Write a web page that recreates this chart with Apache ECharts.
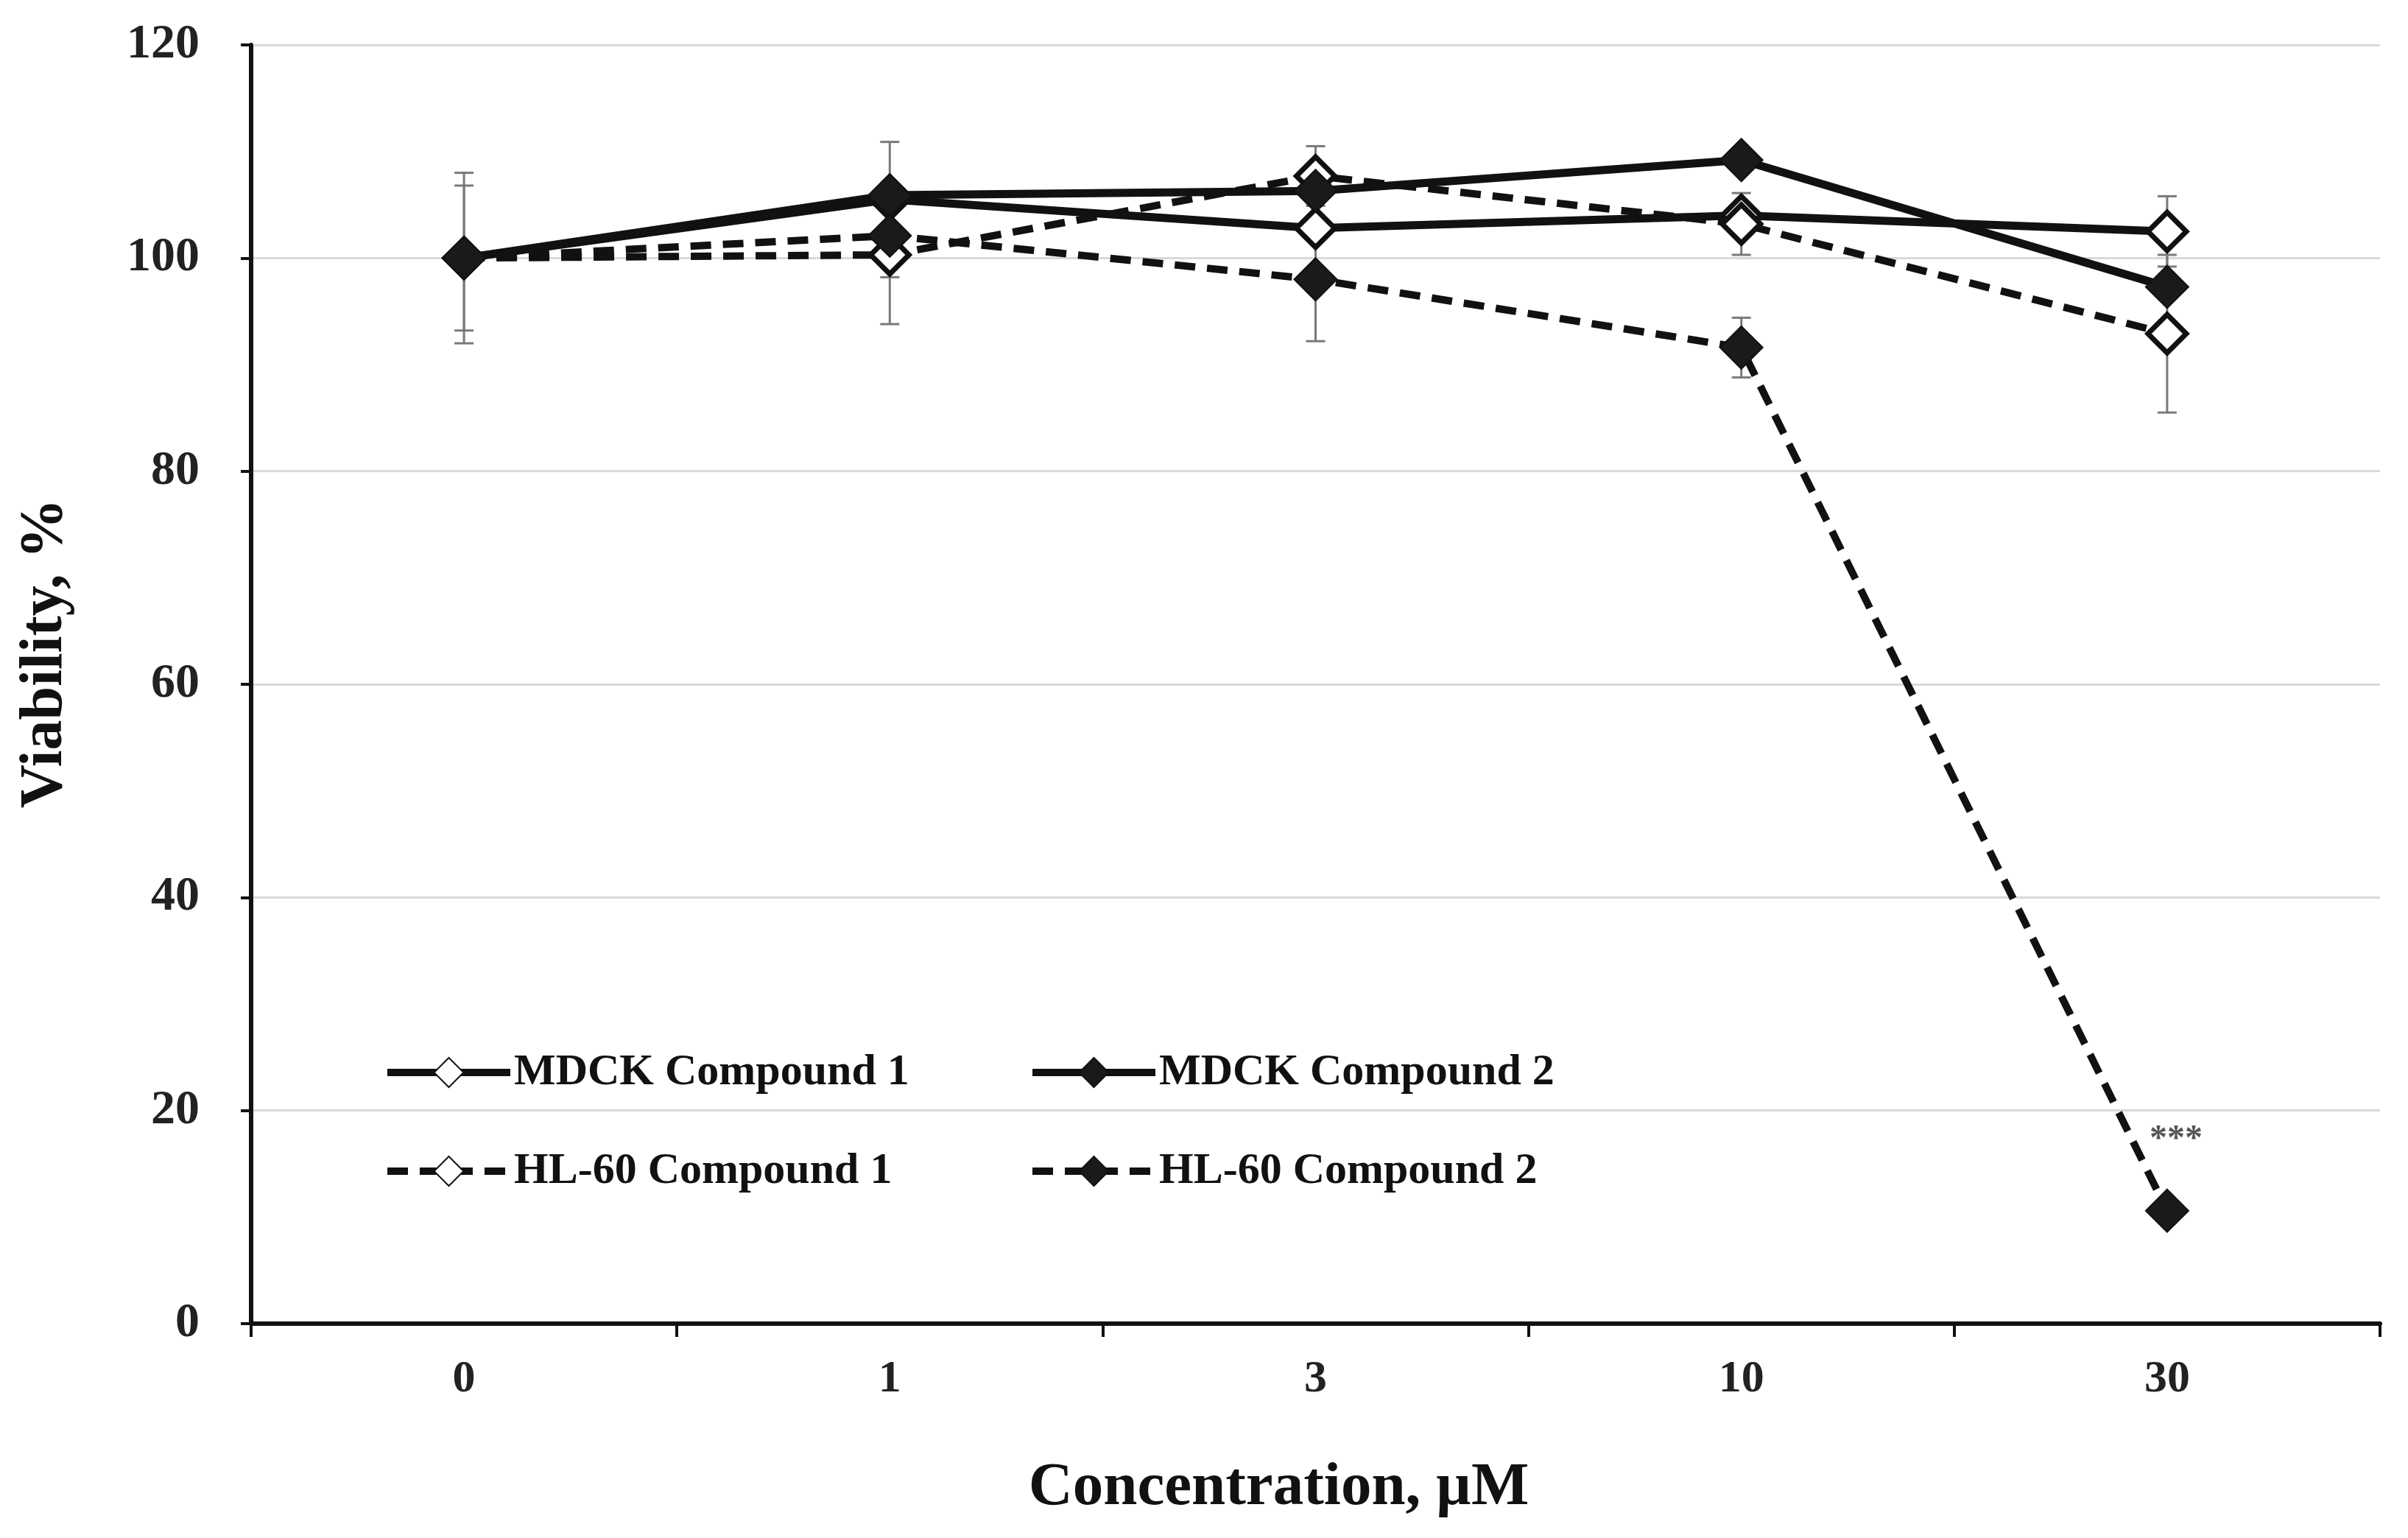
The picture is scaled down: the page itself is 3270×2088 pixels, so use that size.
<!DOCTYPE html>
<html><head><meta charset="utf-8">
<script src="https://cdn.jsdelivr.net/npm/echarts@6/dist/echarts.min.js"></script>
<style>html,body{margin:0;padding:0;background:#fff}#c{width:3270px;height:2088px}</style>
</head><body><div id="c"></div>
<script>
// ---- data ----
const categories = ['0', '1', '3', '10', '30'];
const seriesNames = ['MDCK Compound 1', 'MDCK Compound 2', 'HL-60 Compound 1', 'HL-60 Compound 2'];
const mdck1 = [100, 105.5, 102.8, 104.0, 102.5];
const mdck2 = [100, 105.9, 106.3, 109.2, 97.3];
const hl601 = [100, 100.3, 107.7, 103.2, 92.9];
const hl602 = [100, 102.1, 98.0, 91.6, 10.6];
const mdck1Err = [0, 0, 0, 0, 3.3];
const mdck2Err = [0, 5.0, 0, 0, 0];
const hl601Err = [8.0, 6.5, 2.8, 2.9, 7.4];
const hl602Err = [6.8, 3.9, 5.8, 2.8, 0];
const hl602Marks = ['', '', '', '', '***'];
const yTicks = { min: 0, max: 120, interval: 20 };

const FONT = 'Liberation Serif';
const INK = '#111';

function errSeries(vals, errs) {
  return {
    type: 'custom', silent: true, z: 1,
    data: vals.map((v, i) => [i, v, errs[i]]),
    encode: { x: 0, y: 1 },
    renderItem: function (params, api) {
      const e = api.value(2);
      if (!e) return null;
      const x = api.value(0), v = api.value(1);
      const t = api.coord([x, v + e]);
      const b = api.coord([x, v - e]);
      const hw = 13;
      const st = { stroke: '#7a7a7a', lineWidth: 3 };
      return {
        type: 'group', children: [
          { type: 'line', shape: { x1: t[0], y1: t[1], x2: b[0], y2: b[1] }, style: st },
          { type: 'line', shape: { x1: t[0] - hw, y1: t[1], x2: t[0] + hw, y2: t[1] }, style: st },
          { type: 'line', shape: { x1: b[0] - hw, y1: b[1], x2: b[0] + hw, y2: b[1] }, style: st }
        ]
      };
    }
  };
}

function lineSeries(name, vals, dashed, filled, marks) {
  const data = vals.map((v, i) => (marks && marks[i]) ? {
    value: v,
    label: {
      show: true, formatter: marks[i], position: 'top', distance: 42, offset: [12, 0],
      fontSize: 48, color: '#555', fontFamily: FONT, fontWeight: 'bold'
    }
  } : v);
  return {
    name: name, type: 'line', data: data, z: 3,
    symbol: 'diamond', symbolSize: filled ? 58 : 52,
    lineStyle: { color: INK, width: dashed ? 10 : 11, type: dashed ? [28, 16] : 'solid' },
    itemStyle: { color: filled ? '#1a1a1a' : '#fff', borderColor: '#111', borderWidth: filled ? 2 : 7 },
    emphasis: { disabled: true }
  };
}

const legendText = { fontFamily: FONT, fontWeight: 'bold', fontSize: 60, color: INK };
const legendBase = {
  top: 1426, orient: 'vertical', itemWidth: 167, itemHeight: 50, itemGap: 74, padding: 0,
  textStyle: legendText, selectedMode: false,
  lineStyle: { width: 10 }
};

const option = {
  backgroundColor: '#fff',
  animation: false,
  grid: { left: 341, right: 38, top: 61, bottom: 291, containLabel: false },
  legend: [
    Object.assign({}, legendBase, { left: 521, data: [seriesNames[0], seriesNames[2]] }),
    Object.assign({}, legendBase, { left: 1397, data: [seriesNames[1], seriesNames[3]] })
  ],
  xAxis: {
    type: 'category', data: categories, boundaryGap: true,
    name: 'Concentration, µM', nameLocation: 'middle', nameGap: 182,
    nameTextStyle: { fontFamily: FONT, fontWeight: 'bold', fontSize: 83, color: INK, padding: [0, 100, 0, 0] },
    axisLine: { lineStyle: { color: INK, width: 6 } },
    axisTick: { show: true, inside: false, length: 18, lineStyle: { color: INK, width: 4 } },
    axisLabel: { margin: 45, fontFamily: FONT, fontWeight: 'bold', fontSize: 62, color: '#222' },
    splitLine: { show: false }
  },
  yAxis: {
    type: 'value', min: yTicks.min, max: yTicks.max, interval: yTicks.interval,
    name: 'Viability, %', nameLocation: 'middle', nameRotate: 90, nameGap: 238,
    nameTextStyle: { fontFamily: FONT, fontWeight: 'bold', fontSize: 82, color: INK, padding: [0, 0, 0, 84] },
    axisLine: { show: true, lineStyle: { color: INK, width: 6 } },
    axisTick: { show: true, inside: false, length: 14, lineStyle: { color: INK, width: 4 } },
    axisLabel: { margin: 70, fontFamily: FONT, fontWeight: 'bold', fontSize: 66, color: '#222' },
    splitLine: { show: true, lineStyle: { color: '#d9d9d9', width: 3 } }
  },
  series: [
    errSeries(mdck1, mdck1Err),
    errSeries(mdck2, mdck2Err),
    errSeries(hl601, hl601Err),
    errSeries(hl602, hl602Err),
    lineSeries(seriesNames[0], mdck1, false, false),
    lineSeries(seriesNames[2], hl601, true, false),
    lineSeries(seriesNames[1], mdck2, false, true),
    lineSeries(seriesNames[3], hl602, true, true, hl602Marks)
  ]
};

const chart = echarts.init(document.getElementById('c'), null, { renderer: 'canvas' });
chart.setOption(option);
</script>
</body></html>
